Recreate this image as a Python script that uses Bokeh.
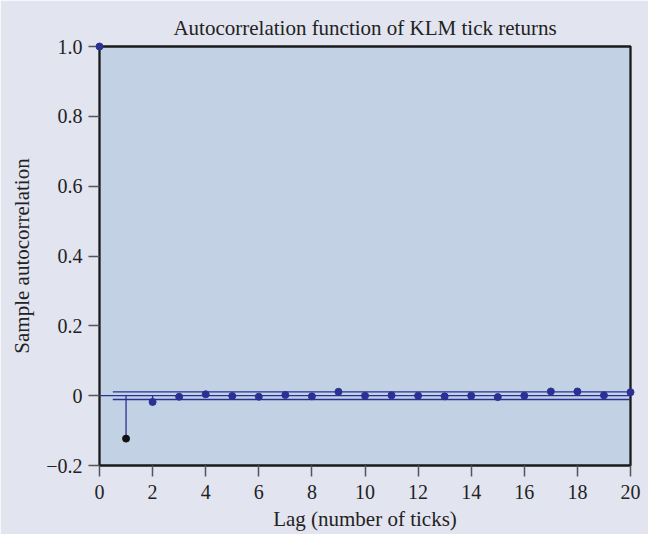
from bokeh.plotting import figure
from bokeh.models import FixedTicker, CustomJSTickFormatter, ColumnDataSource
from bokeh.embed import file_html
from bokeh.resources import INLINE

# Data
lags = list(range(0, 21))
acf = [1.0, -0.123, -0.018, -0.003, 0.004, -0.001, -0.003, 0.002, -0.002, 0.011,
       0.0, 0.001, 0.0, -0.002, 0.0, -0.004, 0.0, 0.012, 0.012, 0.001, 0.010]
conf_bound = 0.011
band_start = 0.5
x_ticks = list(range(0, 21, 2))
y_ticks = [-0.2, 0.0, 0.2, 0.4, 0.6, 0.8, 1.0]

FONT = "Liberation Serif"
NAVY = "#2b3192"
BG_OUT = "#e2e4f0"
BG_IN = "#c2d1e4"

p = figure(width=648, height=534, x_range=(0, 20), y_range=(-0.2, 1.0),
           output_backend="svg", toolbar_location=None,
           min_border_left=99, min_border_top=46, min_border_right=18, min_border_bottom=69,
           title="Autocorrelation function of KLM tick returns")
p.background_fill_color = BG_IN
p.border_fill_color = BG_OUT
p.outline_line_color = "#1a1a1a"
p.outline_line_width = 2.3
p.grid.visible = False

p.title.text_font = FONT
p.title.text_font_size = "21px"
p.title.text_font_style = "normal"
p.title.text_color = "#222222"
p.title.align = "center"
p.title.offset = 17
p.title.standoff = 14

p.xaxis.ticker = FixedTicker(ticks=x_ticks)
p.yaxis.ticker = FixedTicker(ticks=y_ticks)
p.yaxis.formatter = CustomJSTickFormatter(code="""
if (Math.abs(tick) < 1e-9) return "0";
return tick.toFixed(1).replace("-", "\u2212");
""")
for ax in (p.xaxis, p.yaxis):
    ax.axis_line_color = None
    ax.major_tick_line_color = "#555555"
    ax.major_tick_line_width = 1.5
    ax.major_tick_out = 11
    ax.major_tick_in = 0
    ax.minor_tick_line_color = None
    ax.major_label_text_font = FONT
    ax.major_label_text_font_size = "20px"
    ax.major_label_text_color = "#222222"
    ax.axis_label_text_font = FONT
    ax.axis_label_text_font_size = "21px"
    ax.axis_label_text_font_style = "normal"
    ax.axis_label_text_color = "#222222"
p.xaxis.axis_label = "Lag (number of ticks)"
p.yaxis.axis_label = "Sample autocorrelation"
p.xaxis.major_label_standoff = 8
p.yaxis.major_label_standoff = 6
p.xaxis.axis_label_standoff = 5
p.yaxis.axis_label_standoff = 9

# zero line and confidence band
p.line([lags[0], lags[-1]], [0, 0], line_color=NAVY, line_width=1.4)
p.line([band_start, lags[-1]], [conf_bound, conf_bound], line_color=NAVY, line_width=1.4)
p.line([band_start, lags[-1]], [-conf_bound, -conf_bound], line_color=NAVY, line_width=1.4)

# stems
p.segment(x0=lags[1:], y0=[0] * (len(lags) - 1), x1=lags[1:], y1=acf[1:],
          line_color=NAVY, line_width=1.3)

colors = [NAVY] * len(lags)
colors[1] = "#111111"
src = ColumnDataSource(dict(x=lags, y=acf, c=colors))
p.scatter("x", "y", source=src, size=7, fill_color="c", line_color="c", level="overlay")

open("out.html", "w").write(file_html(p, INLINE))
